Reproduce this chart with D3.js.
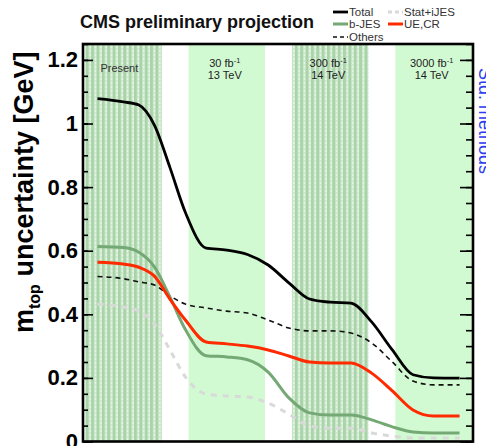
<!DOCTYPE html>
<html>
<head>
<meta charset="utf-8">
<script src="https://cdn.jsdelivr.net/npm/d3@7"></script>
<style>
  body { margin: 0; background: #fff; }
  text { font-family: "Liberation Sans", Arial, sans-serif; }
</style>
</head>
<body>
<div id="wrapper"></div>
<script>
// phases of the projection (x = phase index)
const phaseLumi = ["", "30", "300", "3000"];
const phaseEnergy = ["", "13 TeV", "14 TeV", "14 TeV"];
const phaseHatched = [true, false, true, false];

// sample positions along the phase axis
const xPos = [-0.25, 0, 0.15, 0.3, 0.45, 0.6, 0.8, 1.0, 1.2, 1.4, 1.6, 1.8, 2.0, 2.2, 2.4, 2.6, 2.8, 3.0, 3.25];

const total   = [1.078, 1.068, 1.058, 0.995, 0.862, 0.72, 0.608, 0.602, 0.588, 0.555, 0.499, 0.448, 0.438, 0.435, 0.376, 0.288, 0.21, 0.2, 0.199];
const bJES    = [0.613, 0.61, 0.595, 0.549, 0.455, 0.352, 0.27, 0.266, 0.257, 0.218, 0.137, 0.09, 0.083, 0.083, 0.068, 0.046, 0.03, 0.027, 0.027];
const ueCR    = [0.564, 0.558, 0.548, 0.52, 0.448, 0.382, 0.313, 0.307, 0.3, 0.288, 0.269, 0.25, 0.247, 0.247, 0.215, 0.159, 0.099, 0.08, 0.08];
const others  = [0.519, 0.512, 0.502, 0.492, 0.458, 0.432, 0.42, 0.41, 0.404, 0.382, 0.357, 0.348, 0.348, 0.341, 0.31, 0.25, 0.19, 0.178, 0.178];
const statJES = [0.432, 0.423, 0.41, 0.37, 0.288, 0.203, 0.149, 0.143, 0.14, 0.121, 0.086, 0.049, 0.042, 0.042, 0.027, 0.017, 0.011, 0.011, 0.011];

const yMajor = [0, 0.2, 0.4, 0.6, 0.8, 1.0, 1.2];

const width = 486, height = 446;
const plot = { left: 83, right: 473, top: 44, bottom: 441.5 };

const svg = d3.select("#wrapper").append("svg")
  .attr("width", width)
  .attr("height", height);

const xScale = d3.scaleLinear().domain([-0.39, 3.38]).range([plot.left, plot.right]);
const yScale = d3.scaleLinear().domain([0, 1.25]).range([plot.bottom, plot.top]);

// stripe pattern for the hatched phases
const defs = svg.append("defs");
const pat = defs.append("pattern")
  .attr("id", "stripes")
  .attr("patternUnits", "userSpaceOnUse")
  .attr("width", 5.36).attr("height", 4);
pat.append("rect").attr("width", 5.36).attr("height", 4).attr("fill", "#e4f3e4");
pat.append("rect").attr("width", 3.1).attr("height", 4).attr("fill", "#a8d4a8");
pat.append("rect").attr("x", 3.9).attr("y", 0).attr("width", 0.9).attr("height", 2).attr("fill", "#c4e2c4");

const halfW = 0.37;
const bands = svg.append("g");
phaseLumi.forEach((lumi, i) => {
  const x0 = xScale(i - halfW);
  const x1 = i === phaseLumi.length - 1 ? plot.right : xScale(i + halfW);
  bands.append("rect")
    .attr("x", x0).attr("y", plot.top)
    .attr("width", x1 - x0).attr("height", plot.bottom - plot.top)
    .attr("fill", phaseHatched[i] ? "url(#stripes)" : "#d2fad2");

  if (lumi === "") {
    bands.append("text")
      .attr("x", xScale(i) - 4).attr("y", 72)
      .attr("text-anchor", "middle")
      .attr("font-size", 11).attr("fill", "#333")
      .text("Present");
  } else {
    const t = bands.append("text")
      .attr("x", xScale(i) - 2).attr("y", 67)
      .attr("text-anchor", "middle")
      .attr("font-size", 11).attr("fill", "#222");
    t.append("tspan").text(lumi + " fb");
    t.append("tspan").attr("font-size", 7.5).attr("dy", -4).text("-1");
    bands.append("text")
      .attr("x", xScale(i) - 2).attr("y", 79)
      .attr("text-anchor", "middle")
      .attr("font-size", 11).attr("fill", "#222")
      .text(phaseEnergy[i]);
  }
});

// curves
const lineGen = d3.line()
  .x((d, i) => xScale(xPos[i]))
  .y(d => yScale(d))
  .curve(d3.curveMonotoneX);

const series = [
  { values: statJES, color: "#d9d9d9", width: 3, dash: "6,6" },
  { values: others, color: "#111", width: 1.6, dash: "5,4" },
  { values: bJES, color: "#74a874", width: 3, dash: null },
  { values: ueCR, color: "#ff2a00", width: 3, dash: null },
  { values: total, color: "#000", width: 2.8, dash: null },
];

series.forEach(s => {
  svg.append("path")
    .attr("d", lineGen(s.values))
    .attr("fill", "none")
    .attr("stroke", s.color)
    .attr("stroke-width", s.width)
    .attr("stroke-dasharray", s.dash);
});

// axes
const yMinor = d3.range(0, 1.2501, 0.05);

const yAxisLeft = d3.axisLeft(yScale)
  .tickValues(yMajor)
  .tickSize(-10)
  .tickPadding(5)
  .tickFormat(d => (d === 0 || d === 1) ? d3.format("d")(d) : d3.format(".1f")(d));

const yAxisLeftMinor = d3.axisLeft(yScale).tickValues(yMinor).tickSize(-5).tickFormat("");

const leftG = svg.append("g").attr("transform", `translate(${plot.left},0)`).call(yAxisLeft);
leftG.selectAll("text").attr("font-size", 22).attr("font-weight", "bold").attr("fill", "#000")
  .style("font-family", '"Liberation Sans", Arial, sans-serif');
svg.append("g").attr("transform", `translate(${plot.left},0)`).call(yAxisLeftMinor);

const rightMajor = d3.axisRight(yScale).tickValues(yMajor).tickSize(-13).tickFormat("");
const rightMinor = d3.axisRight(yScale).tickValues(yMinor).tickSize(-7).tickFormat("");
svg.append("g").attr("transform", `translate(${plot.right},0)`).call(rightMajor);
svg.append("g").attr("transform", `translate(${plot.right},0)`).call(rightMinor);

svg.selectAll(".domain").remove();
svg.selectAll(".tick line").attr("stroke", "#000").attr("stroke-width", 1.6);

// frame
svg.append("rect")
  .attr("x", plot.left).attr("y", plot.top)
  .attr("width", plot.right - plot.left).attr("height", plot.bottom - plot.top)
  .attr("fill", "none").attr("stroke", "#000").attr("stroke-width", 2.6);

// y axis title
const yTitle = svg.append("text")
  .attr("transform", "translate(33,333) rotate(-90)")
  .attr("font-size", 27).attr("font-weight", "bold").attr("fill", "#000");
yTitle.append("tspan").text("m");
yTitle.append("tspan").attr("font-size", 16).attr("dy", 7).text("top");
yTitle.append("tspan").attr("dy", -7).text(" uncertainty [GeV]");

// cut-off label on the right
svg.append("text")
  .attr("transform", "translate(479,68) rotate(90)")
  .attr("font-size", 18).attr("fill", "#2c3cf0")
  .text("Std. methods");

// title
svg.append("text")
  .attr("x", 80).attr("y", 28)
  .attr("font-size", 18).attr("font-weight", "bold").attr("fill", "#111")
  .text("CMS preliminary projection");

// legend
const legendItems = [
  { label: "Total", color: "#000", width: 2.8, dash: null, x: 333, y: 12 },
  { label: "b-JES", color: "#74a874", width: 3, dash: null, x: 333, y: 24 },
  { label: "Others", color: "#111", width: 1.4, dash: "4,3", x: 333, y: 37 },
  { label: "Stat+iJES", color: "#d9d9d9", width: 3, dash: "4,3", x: 388, y: 12 },
  { label: "UE,CR", color: "#ff2a00", width: 3, dash: null, x: 388, y: 24 },
];
const legend = svg.append("g");
legendItems.forEach(it => {
  legend.append("line")
    .attr("x1", it.x).attr("x2", it.x + 15)
    .attr("y1", it.y).attr("y2", it.y)
    .attr("stroke", it.color).attr("stroke-width", it.width)
    .attr("stroke-dasharray", it.dash);
  legend.append("text")
    .attr("x", it.x + 16).attr("y", it.y + 4)
    .attr("font-size", 11.5).attr("fill", "#333")
    .text(it.label);
});
</script>
</body>
</html>
